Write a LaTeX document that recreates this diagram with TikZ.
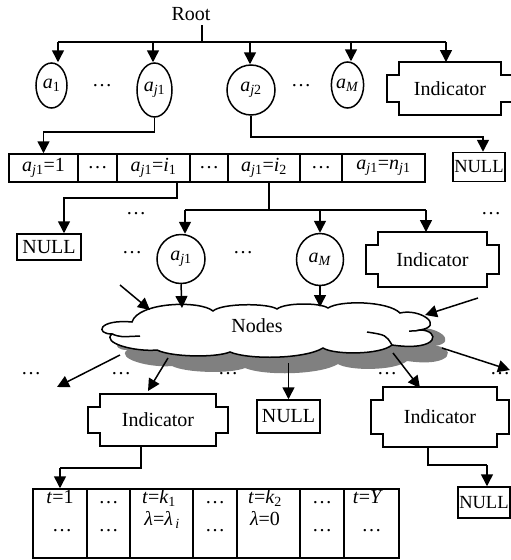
\documentclass[tikz,border=0pt]{standalone}
\usepackage{fontspec}
\setmainfont{Liberation Serif}
\usetikzlibrary{arrows.meta,shapes.geometric}
\newcommand{\va}[1]{\textit{a}\textsubscript{#1}}
\definecolor{shade}{RGB}{128,128,128}
\begin{document}
\begin{tikzpicture}[x=1pt,y=-1pt,
  font=\fontsize{20}{24}\selectfont,
  line width=1.5pt,
  arr/.style={-{Triangle[length=12pt,width=12pt]}},
  ell/.style={ellipse, draw, inner sep=0pt},
  cell/.style={draw, rectangle, inner sep=0pt, minimum height=28pt},
  tcol/.style={draw, rectangle, inner sep=0pt, minimum height=69pt},
  nullbox/.style={draw, rectangle, inner sep=2.5pt},
  edgenull/.style={draw, rectangle, inner xsep=1.5pt, inner ysep=2.5pt, font=\fontsize{18.5}{22}\selectfont},
  txt/.style={inner sep=0pt},
  cloudpic/.pic={
    \path[pic actions] (132,322)
      .. controls (138,302) and (200,300) .. (213,311)
      .. controls (222,303) and (268,303) .. (277,309)
      .. controls (285,302.5) and (320,302.5) .. (328,308)
      .. controls (340,300) and (388,301) .. (400,313)
      .. controls (420,308) and (445,326) .. (420,330)
      .. controls (440,330) and (441,352) .. (392,345)
      .. controls (380,355) and (334,355) .. (323,348)
      .. controls (305,359) and (249,360) .. (230,352)
      .. controls (215,358) and (171,357) .. (157,350)
      .. controls (135,352) and (101,343) .. (112,334)
      .. controls (95,334) and (98,319) .. (132,322) -- cycle;
  },
  indic/.style={rectangle, inner sep=0pt, outer sep=0pt,
    append after command={\pgfextra{\let\indnode\tikzlastnode
      \draw (\indnode.north west) -- (\indnode.north east)
        -- ([yshift=-13pt]\indnode.north east) -- ([xshift=12pt,yshift=-13pt]\indnode.north east)
        -- ([xshift=12pt,yshift=13pt]\indnode.south east) -- ([yshift=13pt]\indnode.south east)
        -- (\indnode.south east) -- (\indnode.south west)
        -- ([yshift=13pt]\indnode.south west) -- ([xshift=-12pt,yshift=13pt]\indnode.south west)
        -- ([xshift=-12pt,yshift=-13pt]\indnode.north west) -- ([yshift=-13pt]\indnode.north west)
        -- cycle;}}}
]
\useasboundingbox (0,0) rectangle (511,560);
\clip (0,0) rectangle (511,560);

% ---- top level
\node[txt, inner sep=4pt] (root) at (191,14) {Root};
\node[ell, minimum width=31, minimum height=45] (a1) at (51.5,85.5) {\va{1}};
\node[txt] (dt1) at (102,86) {…};
\node[ell, minimum width=35, minimum height=54] (aj1) at (154.5,90) {\va{\textit{j}1}};
\node[ell, minimum width=48, minimum height=50] (aj2) at (251,90) {\va{\textit{j}2}};
\node[txt] (dt2) at (301,86) {…};
\node[ell, minimum width=31, minimum height=46] (aM) at (347.5,85) {\va{\textit{M}}};
\node[indic, minimum width=102, minimum height=53] (ind0) at (450,88.5) {Indicator};

\coordinate (b0) at (202,42);
\coordinate (b1) at (58,42);
\coordinate (b2) at (153,42);
\coordinate (b3) at (250,42);
\coordinate (b4) at (351,42);
\coordinate (b5) at (446,42);
\draw (root.south -| b0) -- (b0);
\draw (b1) -- (b5);
\draw[arr] (b1) -- (b1 |- a1.north);
\draw[arr] (b2) -- (b2 |- aj1.north);
\draw[arr] (b3) -- (b3 |- aj2.north);
\draw[arr] (b4) -- (b4 |- aM.north);
\draw[arr] (b5) -- (b5 |- ind0.north);

% ---- value array
\node[cell, minimum width=69] (r1) at (43.5,168) {\va{\textit{j}1}=1};
\node[cell, minimum width=39] (r2) at (97.5,168) {…};
\node[cell, minimum width=73] (r3) at (153.5,168) {\va{\textit{j}1}=\textit{i}\textsubscript{1}};
\node[cell, minimum width=38] (r4) at (209,168) {…};
\node[cell, minimum width=72] (r5) at (264,168) {\va{\textit{j}1}=\textit{i}\textsubscript{2}};
\node[cell, minimum width=42] (r6) at (321,168) {…};
\node[cell, minimum width=83] (r7) at (383.5,168) {\va{\textit{j}1}=\textit{n}\textsubscript{\textit{j}1}};
\node[edgenull, anchor=west, minimum height=29] (nullA) at (452,167) {NULL};

\coordinate (j1) at (43.5,132);
\draw[arr] (aj1.south) |- (j1) -- (r1.north);
\coordinate (j2) at (483,137);
\draw[arr] (aj2.south) |- (j2) -- (j2 |- nullA.north);

% ---- second level
\node[nullbox, minimum width=64, minimum height=26] (nullB) at (49,247) {NULL};
\node[txt] (dt3) at (136,214) {…};
\node[txt] (dt4) at (132,253) {…};
\node[ell, minimum width=48, minimum height=49] (c1) at (181,259) {\va{\textit{j}1}};
\node[txt] (dt5) at (243,253) {…};
\node[ell, minimum width=47, minimum height=52] (cM) at (320,259.5) {\va{\textit{M}}};
\node[indic, minimum width=109, minimum height=55] (ind1) at (432.5,259.5) {Indicator};
\node[txt] (dt6) at (491,214) {…};

\coordinate (k1) at (177,198);
\coordinate (k2) at (64,198);
\draw[arr] (r3.south -| k1) -- (k1) -- (k2) -- (k2 |- nullB.north);

\coordinate (d0) at (269,210);
\coordinate (d1) at (185,210);
\coordinate (d2) at (320,210);
\coordinate (d3) at (426,210);
\draw (r5.south -| d0) -- (d0);
\draw (d1) -- (d3);
\draw[arr] (d1) -- (d1 |- c1.north);
\draw[arr] (d2) -- (d2 |- cM.north);
\draw[arr] (d3) -- (d3 |- ind1.north);

% ---- cloud with its shadow
\pic[fill=shade] at (15,16) {cloudpic};
\pic[draw, fill=white] at (0,0) {cloudpic};
\draw (112,334) .. controls (120,337) .. (140,336);
\draw (420,330) .. controls (416,331) .. (409,331);
\draw (392,345) .. controls (386,335) .. (367,332);
\node[txt] (cloud) at (257,326) {Nodes};

\coordinate (f1) at (120,285);
\coordinate (f1e) at (150,310);
\draw[arr] (f1) -- (f1e);
\coordinate (g1) at (182,308);
\draw[arr] (c1.south) -- (g1);
\coordinate (g2) at (320,307);
\draw[arr] (cM.south) -- (g2);
\coordinate (f2) at (478,298);
\coordinate (f2e) at (425,315);
\draw[arr] (f2) -- (f2e);

\coordinate (o1) at (120,355);
\coordinate (o1e) at (57,387);
\draw[arr] (o1) -- (o1e);
\coordinate (o2) at (168,358);
\coordinate (o2e) at (148,391);
\draw[arr] (o2) -- (o2e);
\coordinate (o4) at (393,353);
\coordinate (o4e) at (420,388);
\draw[arr] (o4) -- (o4e);
\coordinate (o5) at (442,348);
\coordinate (o5e) at (510,370);
\draw[arr] (o5) -- (o5e);

\node[txt] (e1) at (31,374) {…};
\node[txt] (e2) at (121,374) {…};
\node[txt] (e3) at (228,374) {…};
\node[txt] (e4) at (387,374) {…};
\node[txt] (e5) at (500,374) {…};

% ---- third level
\node[indic, minimum width=116, minimum height=52] (ind2) at (158,420) {Indicator};
\node[nullbox, minimum width=63, minimum height=33] (nullC) at (288.5,416.5) {NULL};
\node[indic, minimum width=114, minimum height=60] (ind3) at (440,417) {Indicator};
\node[edgenull, anchor=west, minimum height=31] (nullD) at (457,502.5) {NULL};

\coordinate (o3) at (288.5,363);
\draw[arr] (o3) -- (nullC.north);

\coordinate (m1) at (141,468);
\coordinate (m2) at (60,468);
\coordinate (n1) at (428,465);
\coordinate (n2) at (487,465);
\draw (ind3.south -| n1) -- (n1) -- (n2);
\draw[arr] (n2) -- (n2 |- nullD.north);

% ---- table
\node[tcol, minimum width=54] (t1) at (60,523.5) {};
\node[tcol, minimum width=43] (t2) at (108.5,523.5) {};
\node[tcol, minimum width=63] (t3) at (161.5,523.5) {};
\node[tcol, minimum width=44] (t4) at (215,523.5) {};
\node[tcol, minimum width=63] (t5) at (268.5,523.5) {};
\node[tcol, minimum width=44] (t6) at (322,523.5) {};
\node[tcol, minimum width=55] (t7) at (371.5,523.5) {};
\draw (ind2.south -| m1) -- (m1) -- (m2);
\draw[arr] (m2) -- (t1.north);

\node[txt, anchor=base] (u1) at (60,503) {\textit{t}=1};
\node[txt, anchor=base] (u2) at (108.5,503) {…};
\node[txt, anchor=base] (u3) at (159,503) {\textit{t}=\textit{k}\textsubscript{1}};
\node[txt, anchor=base] (u4) at (215,503) {…};
\node[txt, anchor=base] (u5) at (265,503) {\textit{t}=\textit{k}\textsubscript{2}};
\node[txt, anchor=base] (u6) at (322,503) {…};
\node[txt, anchor=base] (u7) at (368,503) {\textit{t}=\textit{Y}};
\node[txt, anchor=base] (v1) at (62,531) {…};
\node[txt, anchor=base] (v2) at (108.5,531) {…};
\node[txt, anchor=base] (v3) at (162,525) {\textit{λ}=\textit{λ}\textsubscript{\,\textit{i}}};
\node[txt, anchor=base] (v4) at (215,531) {…};
\node[txt, anchor=base] (v5) at (265,525) {\textit{λ}=0};
\node[txt, anchor=base] (v6) at (322,531) {…};
\node[txt, anchor=base] (v7) at (371.5,531) {…};
\end{tikzpicture}
\end{document}
